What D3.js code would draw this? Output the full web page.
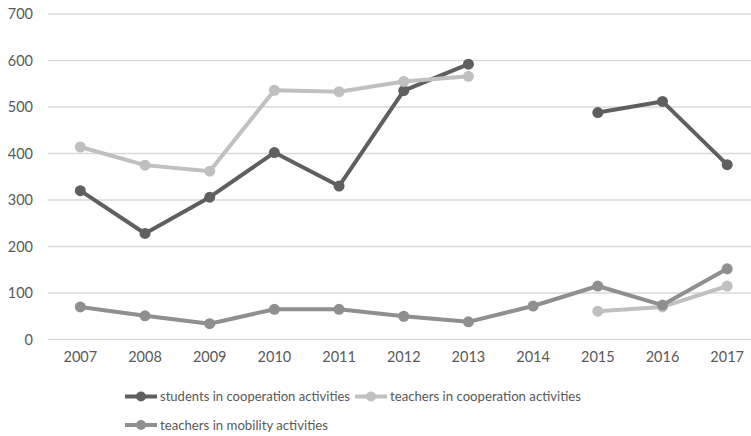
<!DOCTYPE html>
<html>
<head>
<meta charset="utf-8">
<script src="https://cdn.jsdelivr.net/npm/d3@7"></script>
<style>
  html, body { margin: 0; padding: 0; background: #ffffff; }
  svg { display: block; }
  text { font-family: Lato, "Open Sans", sans-serif; fill: #595959; }
</style>
</head>
<body>
<svg id="chart" width="751" height="436"></svg>
<script>
// Years on the category axis
const years = ["2007", "2008", "2009", "2010", "2011", "2012", "2013", "2014", "2015", "2016", "2017"];
// Y axis ticks
const yTicks = [0, 100, 200, 300, 400, 500, 600, 700];

// Series values (null = no data for that year)
const studentsCooperation = [320, 228, 306, 402, 330, 535, 592, null, 488, 512, 376];
const teachersCooperation = [414, 375, 362, 536, 533, 555, 566, null, 61, 70, 115];
const teachersMobility    = [70, 51, 34, 65, 65, 50, 38, 72, 115, 74, 152];

const seriesNames = [
  "students in cooperation activities",
  "teachers in cooperation activities",
  "teachers in mobility activities"
];
const seriesColors = ["#5f5f5f", "#c0c0c0", "#8f8f8f"];
const seriesValues = [studentsCooperation, teachersCooperation, teachersMobility];

const svg = d3.select("#chart");

const x = d3.scaleBand()
  .domain(years)
  .range([48, 759.5])
  .paddingInner(0)
  .paddingOuter(0);

const y = d3.scaleLinear()
  .domain([0, 700])
  .range([339.5, 14]);

// Horizontal gridlines
svg.append("g")
  .selectAll("line")
  .data(yTicks)
  .join("line")
  .attr("x1", 48)
  .attr("x2", 751)
  .attr("y1", d => y(d))
  .attr("y2", d => y(d))
  .attr("stroke", "#d9d9d9")
  .attr("stroke-width", 1.5);

// Y axis labels
const yAxis = d3.axisLeft(y).tickValues(yTicks).tickSize(0).tickPadding(0);
const gy = svg.append("g").attr("transform", "translate(33,0)").call(yAxis);
gy.select(".domain").remove();
gy.selectAll("text")
  .attr("font-size", 14.5)
  .attr("font-family", "Lato, 'Open Sans', sans-serif")
  .attr("fill", "#595959");

// X axis labels
const xAxis = d3.axisBottom(x).tickSize(0).tickPadding(0);
const gx = svg.append("g").attr("transform", "translate(0,352)").call(xAxis);
gx.select(".domain").remove();
gx.selectAll("text")
  .attr("font-size", 14.5)
  .attr("font-family", "Lato, 'Open Sans', sans-serif")
  .attr("fill", "#595959");

const cx = d => x(d) + x.bandwidth() / 2;

const line = d3.line()
  .defined(d => d.v !== null)
  .x(d => cx(d.year))
  .y(d => y(d.v));

seriesValues.forEach((vals, i) => {
  const pts = years.map((year, j) => ({ year, v: vals[j] }));
  const g = svg.append("g");
  g.append("path")
    .datum(pts)
    .attr("d", line)
    .attr("fill", "none")
    .attr("stroke", seriesColors[i])
    .attr("stroke-width", 4)
    .attr("stroke-linejoin", "round")
    .attr("stroke-linecap", "round");
  g.selectAll("circle")
    .data(pts.filter(d => d.v !== null))
    .join("circle")
    .attr("cx", d => cx(d.year))
    .attr("cy", d => y(d.v))
    .attr("r", 5.5)
    .attr("fill", seriesColors[i]);
});

// Legend: swatch line with marker, then the label fitted to its slot
const legendItems = [
  { x: 125, y: 396.5, w: 190 },
  { x: 355, y: 396.5, w: 191 },
  { x: 125, y: 425, w: 168 }
];
legendItems.forEach((pos, i) => {
  const g = svg.append("g").attr("transform", `translate(${pos.x},${pos.y})`);
  g.append("line")
    .attr("x1", 0).attr("x2", 32)
    .attr("y1", 0).attr("y2", 0)
    .attr("stroke", seriesColors[i])
    .attr("stroke-width", 4);
  g.append("circle")
    .attr("cx", 16).attr("cy", 0).attr("r", 5)
    .attr("fill", seriesColors[i]);
  g.append("text")
    .attr("x", 35)
    .attr("y", 0)
    .attr("dy", "0.35em")
    .attr("font-size", 14)
    .attr("textLength", pos.w)
    .attr("lengthAdjust", "spacingAndGlyphs")
    .text(seriesNames[i]);
});
</script>
</body>
</html>
